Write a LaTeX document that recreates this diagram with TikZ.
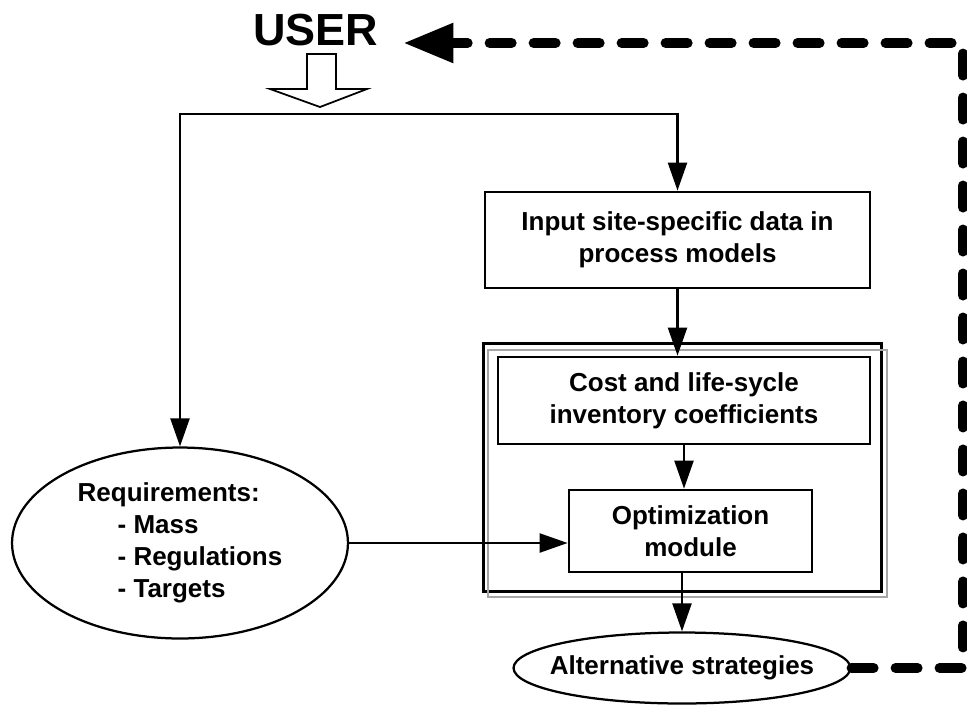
\documentclass[tikz,border=0pt]{standalone}
\usepackage{fontspec}
\setmainfont{Liberation Sans}
\usetikzlibrary{calc,arrows.meta,shapes.geometric}

\begin{document}
\begin{tikzpicture}[x=0.02cm, y=-0.02cm,
		txt/.style={font=\fontsize{14.8}{18.2}\selectfont\bfseries},
		procbox/.style={draw, line width=0.55mm, txt, align=center, inner sep=0pt},
		reqell/.style={draw, ellipse, line width=0.45mm, txt, inner sep=0pt},
		arr/.style={line width=0.45mm, -{Triangle[length=0.56cm, width=0.38cm]}},
		fback/.style={line width=0.2cm, dash pattern=on 0.44cm off 0.44cm, line cap=round, line join=round, -{Triangle[length=1cm, width=0.75cm]}}]
		%%%%% START %%%%%
		
		\useasboundingbox (0, 0) rectangle (967, 704);
		
		\node[font=\fontsize{25.6}{30}\selectfont\bfseries, inner sep=0pt] (user) at (316, 30) {USER};
		\draw[line width=0.35mm] (307, 54) -- (336, 54) -- (336, 89) -- (367, 89) -- (320, 107) -- (270, 89) -- (307, 89) -- cycle;
		\coordinate (split) at (320, 114);
		
		\node[procbox, minimum width=7.7cm, minimum height=1.92cm] (input) at (677.5, 240) {Input site-specific data in\\process models};
		
		\draw[line width=0.6mm] (483, 343) rectangle (881, 591);
		\draw[line width=0.4mm, color=black!35] (488, 350) rectangle (887, 597);
		
		\node[procbox, minimum width=7.44cm, minimum height=1.74cm] (coef) at (684, 400.5) {Cost and life-sycle\\inventory coefficients};
		\node[procbox, minimum width=4.86cm, minimum height=1.64cm] (optim) at (690.5, 531) {Optimization\\module};
		
		\node[reqell, minimum width=6.72cm, minimum height=3.82cm, align=left] (req) at (180, 543) {Requirements:\\\hspace{0.8cm}- Mass\\\hspace{0.8cm}- Regulations\\\hspace{0.8cm}- Targets};
		\node[reqell, minimum width=6.74cm, minimum height=1.42cm, label={[txt]center:Alternative strategies}] (alt) at (682, 668) {};
		
		\draw[arr] (split) -| (req.north);
		\draw[arr] (split) -| (input.north);
		\draw[arr] (input.south) -- (input.south |- coef.north);
		\draw[arr] (coef.south) -- (coef.south |- optim.north);
		\draw[arr] (req.east) -- (req.east -| optim.west);
		\draw[arr] (optim.south -| alt.north) -- (alt.north);
		
		\coordinate (fbA) at (963, 668);
		\coordinate (fbB) at (963, 43);
		\draw[fback] (alt.east) -- (fbA) -- (fbB) -- ($(user.east)+(24.5, 13)$);
		
		%%%%% END %%%%%
\end{tikzpicture}
\end{document}
